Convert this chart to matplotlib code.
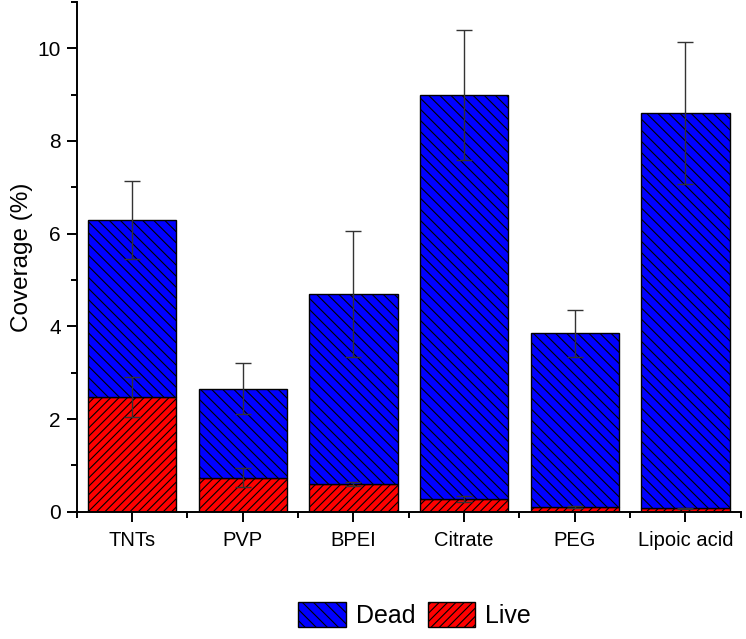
import matplotlib.pyplot as plt
import numpy as np
from matplotlib.ticker import MultipleLocator, FixedLocator

plt.rcParams['font.family'] = ['Liberation Sans', 'DejaVu Sans']
plt.rcParams['hatch.linewidth'] = 0.8

categories = ["TNTs", "PVP", "BPEI", "Citrate", "PEG", "Lipoic acid"]
total = [6.3, 2.66, 4.7, 9.0, 3.85, 8.6]
total_err = [0.84, 0.56, 1.36, 1.4, 0.5, 1.53]
live = [2.48, 0.74, 0.6, 0.28, 0.1, 0.08]
live_err = [0.43, 0.2, 0.04, 0.06, 0.02, 0.01]

dead = [t - l for t, l in zip(total, live)]
x = np.arange(len(categories))

fig = plt.figure(figsize=(7.46, 6.39), dpi=100)
ax = fig.add_axes([0.103, 0.199, 0.890, 0.798])

live_bars = ax.bar(x, live, 0.8, color='#ff0000', edgecolor='black', linewidth=1,
                   hatch='////', label='Live')
dead_bars = ax.bar(x, dead, 0.8, bottom=live, color='#0000ff', edgecolor='black', linewidth=1,
                   hatch='\\\\\\', label='Dead')

ax.errorbar(x, total, yerr=total_err, fmt='none', ecolor='#333333', elinewidth=1,
            capsize=5.5, capthick=1)
ax.errorbar(x, live, yerr=live_err, fmt='none', ecolor='#333333', elinewidth=1,
            capsize=5.5, capthick=1)

ax.set_xlim(-0.5, 5.5)
ax.set_ylim(0, 11)
ax.set_xticks(x)
ax.set_xticklabels(categories, fontsize=14.5)
ax.xaxis.set_minor_locator(FixedLocator(np.arange(-0.5, 6, 1)))
ax.yaxis.set_major_locator(MultipleLocator(2))
ax.yaxis.set_minor_locator(MultipleLocator(1))
ax.tick_params(axis='y', labelsize=15, pad=4)
ax.tick_params(axis='x', pad=6)
ax.tick_params(which='major', direction='out', length=7.5, width=1.4)
ax.tick_params(which='minor', direction='out', length=4, width=1.4)
ax.set_ylabel("Coverage (%)", fontsize=17.5, labelpad=3)

for side in ['top', 'right']:
    ax.spines[side].set_visible(False)
for side in ['left', 'bottom']:
    ax.spines[side].set_linewidth(1.4)

fig.legend([dead_bars, live_bars], ['Dead', 'Live'], loc='lower center',
           bbox_to_anchor=(0.556, -0.018), ncol=2, frameon=False, fontsize=18,
           handlelength=1.9, handleheight=1.2, columnspacing=0.5, handletextpad=0.4)

plt.savefig("out.png", dpi=100)
